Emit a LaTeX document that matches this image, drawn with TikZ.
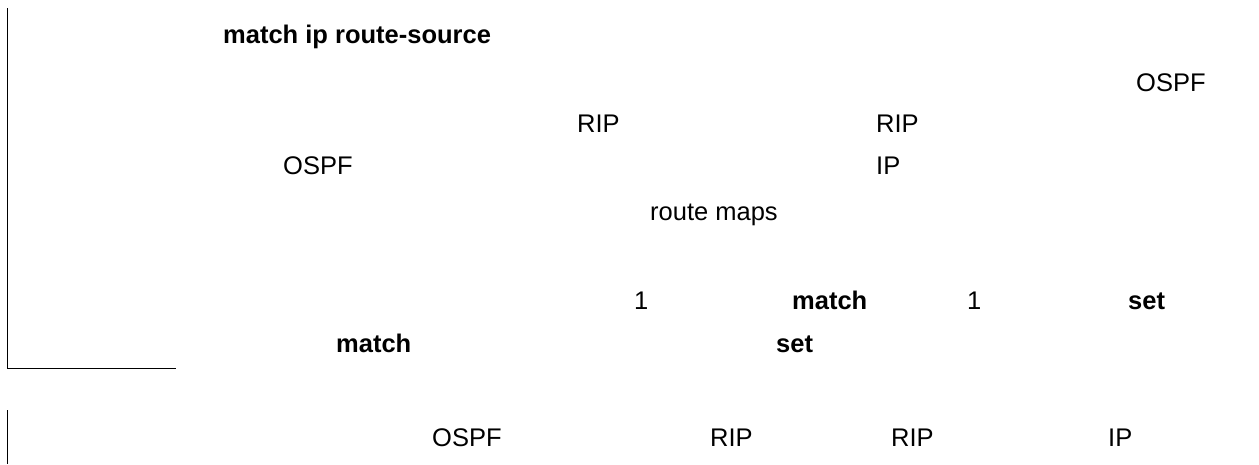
\documentclass[tikz,border=0pt]{standalone}
\usepackage{fontspec}
\setmainfont{Liberation Sans}
\usepackage{tikz}

\begin{document}
\begin{tikzpicture}[x=1pt,y=-1pt,
	word/.style={anchor=base west,inner sep=0pt,font=\fontsize{25.5}{30}\selectfont},
	keyword/.style={word,font=\fontsize{25.5}{30}\selectfont\bfseries}]
	    \useasboundingbox (0,0) rectangle (1259,464);
	    \node[keyword] (cmd) at (223,43) {match ip route-source};
	    \node[word] (ospf1) at (1136,91) {OSPF};
	    \node[word] (rip1) at (577,132) {RIP};
	    \node[word] (rip2) at (876,132) {RIP};
	    \node[word] (ospf2) at (283,174) {OSPF};
	    \node[word] (ip1) at (876,174) {IP};
	    \node[word] (maps) at (650,220) {route maps};
	    \node[word] (one1) at (634,309) {1};
	    \node[keyword] (match1) at (792,309) {match};
	    \node[word] (one2) at (967,309) {1};
	    \node[keyword] (set1) at (1128,309) {set};
	    \node[keyword] (match2) at (336,352) {match};
	    \node[keyword] (set2) at (776,352) {set};
	    \node[word] (ospf3) at (432,446) {OSPF};
	    \node[word] (rip3) at (710,446) {RIP};
	    \node[word] (rip4) at (891,446) {RIP};
	    \node[word] (ip2) at (1108,446) {IP};
	    
	    \draw[line width=1pt] (7.5,8) -- (7.5,368) -- (176,368);
	    \draw[line width=1pt] (7.5,410) -- (7.5,464);
        \end{tikzpicture}
\end{document}
